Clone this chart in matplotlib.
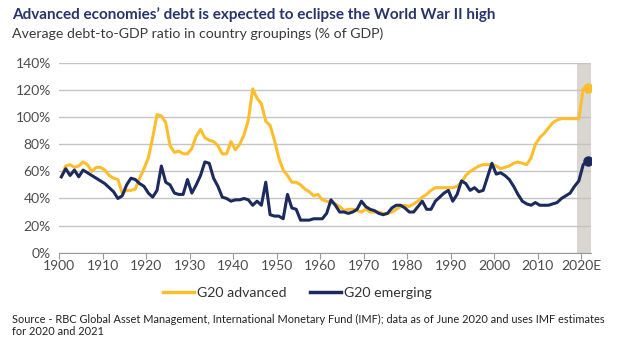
import numpy as np
import matplotlib
matplotlib.use("Agg")
import matplotlib.pyplot as plt
from matplotlib.lines import Line2D

plt.rcParams['font.family'] = ['Lato', 'DejaVu Sans']

# data (% of GDP)
years = list(range(1900, 2022))

g20_advanced = [
    56, 64, 65, 63, 64, 67, 65, 60, 63, 63,   # 1900s
    61, 57, 55, 54, 44, 46, 46, 47, 55, 62,   # 1910s
    70, 85, 102, 101, 96, 79, 74, 75, 73, 73, # 1920s
    77, 86, 91, 85, 83, 82, 79, 73, 73, 82,   # 1930s
    76, 80, 87, 98, 121, 114, 110, 97, 94, 83,  # 1940s
    70, 61, 57, 52, 52, 50, 47, 45, 42, 43,   # 1950s
    39, 38, 37, 36, 34, 31, 32, 32, 31, 30,   # 1960s
    32, 30, 30, 30, 29, 29, 30, 32, 34, 35,   # 1970s
    34, 36, 38, 41, 43, 46, 48, 48, 48, 48,   # 1980s
    48, 49, 52, 57, 60, 62, 64, 65, 65, 65,   # 1990s
    64, 62, 63, 64, 66, 67, 66, 65, 70, 80,   # 2000s
    85, 88, 92, 96, 98, 99, 99, 99, 99, 99,   # 2010s
    121, 122,                                 # 2020E, 2021E
]

g20_emerging = [
    56, 62, 57, 61, 56, 61, 59, 57, 55, 53,
    51, 48, 45, 40, 42, 50, 55, 54, 51, 49,
    44, 41, 46, 64, 52, 50, 44, 43, 43, 54,
    44, 50, 57, 67, 66, 55, 49, 41, 40, 38,
    39, 39, 40, 39, 35, 38, 35, 52, 28, 27,
    27, 25, 43, 33, 32, 24, 24, 24, 25, 25,
    25, 29, 39, 35, 30, 30, 29, 30, 32, 38,
    34, 32, 31, 29, 28, 29, 33, 35, 35, 33,
    30, 30, 34, 38, 32, 32, 38, 41, 44, 46,
    38, 43, 53, 51, 46, 48, 45, 46, 56, 66,
    58, 59, 57, 54, 49, 43, 38, 36, 35, 37,
    35, 35, 35, 36, 37, 40, 42, 44, 49, 53,
    65, 68,
]

tick_years = list(range(1900, 2030, 10))
tick_labels = [str(y) for y in tick_years[:-1]] + ['2020E']

yellow = '#FDBE2E'
navy = '#1C2B5E'
grey_txt = '#4D4D4D'

fig = plt.figure(figsize=(6.23, 3.47), dpi=100)
ax = fig.add_axes([0.095, 0.272, 0.853, 0.546])

x = np.array(years) + 0.5  # values are centred inside each year
ax.axvspan(2019.1, 2022.2, color='#DAD6D1', zorder=0, lw=0)
ax.plot(x, g20_advanced, color=yellow, lw=2.2, zorder=3, solid_joinstyle='round')
ax.plot(x, g20_emerging, color=navy, lw=2.2, zorder=4, solid_joinstyle='round')
ax.plot(x[-1], g20_advanced[-1], 'o', color=yellow, ms=6.5, zorder=5)
ax.plot(x[-1], g20_emerging[-1], 'o', color=navy, ms=6.5, zorder=5)

ax.set_xlim(1900, 2022.2)
ax.set_ylim(0, 140)
ax.set_yticks(range(0, 141, 20))
ax.set_yticklabels([f'{v}%' for v in range(0, 141, 20)])
ax.set_xticks(tick_years)
ax.set_xticklabels(tick_labels)
ax.grid(axis='y', color='#C4C4C4', lw=1)
ax.set_axisbelow(True)
for s in ['top', 'right', 'left']:
    ax.spines[s].set_visible(False)
ax.spines['bottom'].set_color('#9A9A9A')
ax.tick_params(axis='y', length=0, labelsize=10, labelcolor=grey_txt, pad=6)
ax.tick_params(axis='x', length=4, color='#9A9A9A', labelsize=10,
               labelcolor=grey_txt, pad=1)

handles = [Line2D([], [], color=yellow, lw=2.5), Line2D([], [], color=navy, lw=2.5)]
fig.legend(handles, ['G20 advanced', 'G20 emerging'], loc='center',
           bbox_to_anchor=(0.477, 0.156), ncol=2, frameon=False, fontsize=10.2,
           handlelength=2.2, handletextpad=0.2, columnspacing=1.7,
           labelcolor='#333333')

fig.text(0.019, 0.957, "Advanced economies\u2019 debt is expected to eclipse the World War II high",
         fontsize=11, fontweight='bold', color='#27356A', va='center')
fig.text(0.019, 0.903, 'Average debt-to-GDP ratio in country groupings (% of GDP)',
         fontsize=10.2, color='#3A3A3A', va='center')
fig.text(0.019, 0.062,
         'Source - RBC Global Asset Management, International Monetary Fund (IMF); data as of June 2020 and uses IMF estimates\nfor 2020 and 2021',
         fontsize=7.95, color='#222222', va='center', linespacing=1.07)

fig.savefig('out.png', dpi=100)
